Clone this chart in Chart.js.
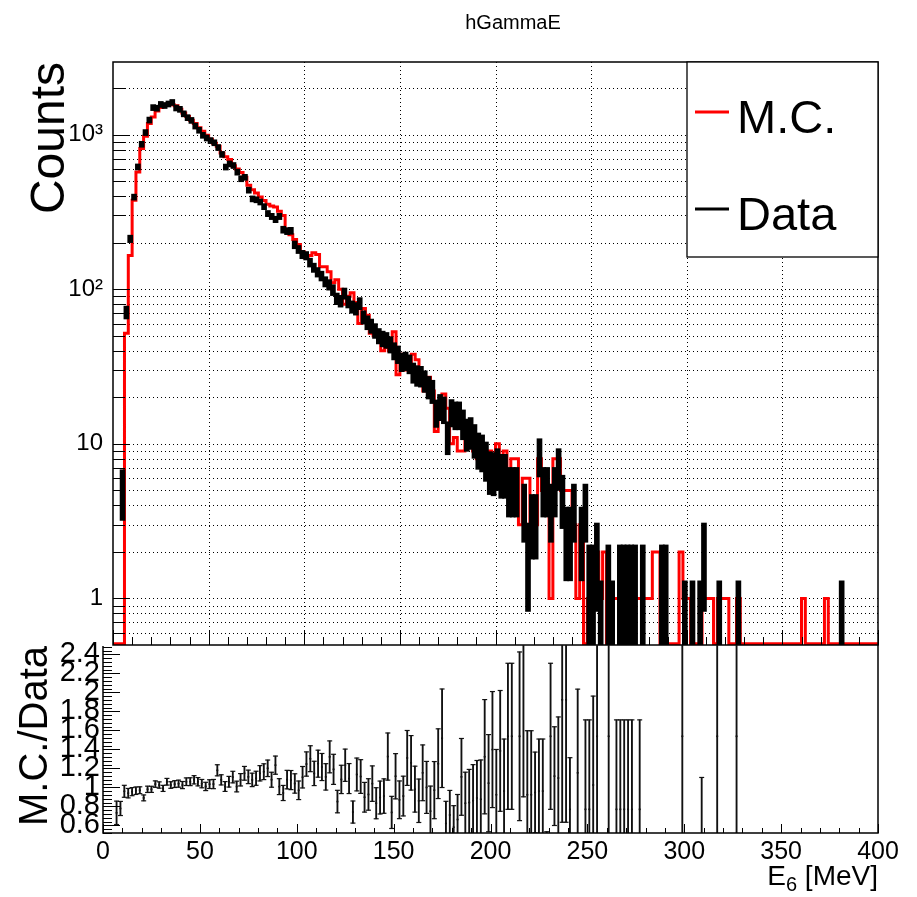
<!DOCTYPE html>
<html>
<head>
<meta charset="utf-8">
<script src="https://cdn.jsdelivr.net/npm/chart.js@4.4.1/dist/chart.umd.min.js"></script>
<style>
html,body{margin:0;padding:0;background:#fff;}
#wrap{position:relative;width:917px;height:897px;background:#fff;}
canvas{position:absolute;left:0;top:0;}
</style>
</head>
<body>
<div id="wrap">
<canvas id="topPad" width="917" height="897"></canvas>
<canvas id="botPad" width="917" height="897"></canvas>
</div>
<script>
const FONT = "'Liberation Sans', Arial, Helvetica, sans-serif";

// ---- histogram binning ----
const binWidth = 2;
const xMin = 0, xMax = 400;

// ---- M.C. histogram (counts per 2 MeV bin) ----
const mcCounts = [
  0,0,0,52,165,377,574,814,977,1180,1300,1420,1500,1560,1580,1560,1540,1460,1380,1310,
  1240,1180,1110,1050,990,935,880,840,760,720,690,630,600,570,530,470,440,420,395,375,
  355,345,340,320,300,240,225,210,195,175,160,165,172,168,140,140,130,110,115,100,
  80,90,95,82,60,75,68,52,50,52,40,42,40,53,28,38,30,30,38,35,
  27,22,27,22,12,17,21,17,10,11,9,9,13,10,9,8,8,7,9,7,
  10,6,9,5,8,8,3,6,6,3,3,8,5,5,1,8,8,5,5,5,
  3,1,3,0,1,1,2,1,2,0,1,1,1,1,1,1,1,1,1,1,
  1,2,2,0,0,0,0,0,2,1,1,0,0,0,1,1,1,0,1,1,
  1,0,0,1,0,0,0,0,0,0,0,0,0,0,0,0,0,0,0,0,
  1,0,0,0,0,0,1,0,0,0,0,0,0,0,0,0,0,0,0,0
];

// ---- Data histogram (weighted entries per 2 MeV bin) ----
const dataValues = [
  0,0,5,71,212,393,611,852,1012,1216,1461,1449,1531,1507,1541,1576,1453,1424,1333,1260,
  1210,1113,1047,972,934,899,871,812,734,610,639,624,566,514,525,435,383,378,366,342,
  309,296,283,296,243,238,239,194,181,168,165,149,138,129,122,112,107,99,87,84,
  94,83,77,75,81,66,61,58,54,50,48,47,44,40,38,34,34.5,33,29,27.8,
  27.5,25.6,23.4,22,16,17.5,16.8,11.2,16.1,15.5,15.5,13.6,11.7,12,10.7,9.3,9,8,6.8,6.7,
  7.15,6.5,6.5,5.2,5.2,5.2,0,3.9,1.95,3.25,3.25,8.45,5.2,5.2,3.9,5.2,7.15,4.55,2.6,2.6,
  3.9,0,2.6,3.9,1.3,1.3,1.95,0.65,0,1.3,0.65,0,1.3,1.3,1.3,1.3,1.3,0,1.3,0,
  0,0,0,1.3,1.3,0,0,0,0,0.65,0,0.65,0,0.65,1.95,0,0,0,0.65,0,
  0,0,0,0.65,0,0,0,0,0,0,0,0,0,0,0,0,0,0,0,0,
  0,0,0,0,0,0,0,0,0,0,0.65,0,0,0,0,0,0,0,0,0
];
const dataWeight = 0.65;   // per-entry weight of the data histogram

// ---- axes ----
const xMajorTicks = [0,50,100,150,200,250,300,350,400];
const xTickLabels = ['0','50','100','150','200','250','300','350','400'];
const xMinorStep = 10;
const yTopRange = [0.5, 2950];
const yTopTicks = [0.6,0.7,0.8,0.9,1,2,3,4,5,6,7,8,9,10,20,30,40,50,60,70,80,90,
                   100,200,300,400,500,600,700,800,900,1000,2000];
const yTopMajor = [1,10,100,1000];
const yTopTickLabels = ['1','10','10\u00B2','10\u00B3'];
const ratioRange = [0.52, 2.5];
const ratioTicks = [0.6,0.8,1,1.2,1.4,1.6,1.8,2,2.2,2.4];
const ratioTickLabels = ['0.6','0.8','1','1.2','1.4','1.6','1.8','2','2.2','2.4'];
const ratioMinorStep = 0.04;

// ---- derived plotting structures ----
const centers = mcCounts.map((_, i) => xMin + (i + 0.5) * binWidth);
const lowEdges = mcCounts.map((_, i) => xMin + i * binWidth);
const logFloor = yTopRange[0] * 1.02;
const mcLine = mcCounts.map((v, i) => ({x: lowEdges[i], y: v > 0 ? v : logFloor}));
mcLine.push({x: xMax, y: mcLine[mcLine.length - 1].y});

const dataBars = [];
dataValues.forEach((v, i) => {
  if (v > 0) {
    const e = Math.sqrt(dataWeight * v);
    dataBars.push({x: centers[i], y: [Math.max(v - e, yTopRange[0]), v + e]});
  }
});

const ratioBars = [], ratioHi = [], ratioLo = [], ratioMid = [];
mcCounts.forEach((m, i) => {
  const d = dataValues[i];
  if (m > 0 && d > 0) {
    const r = m / d;
    const e = r * Math.sqrt(1 / m + dataWeight / d);
    ratioBars.push({x: centers[i], y: [r - e, r + e]});
    ratioHi.push({x: centers[i], y: r + e});
    ratioLo.push({x: centers[i], y: r - e});
    ratioMid.push({x: centers[i], y: r});
  }
});

function seg(ctx, x1, y1, x2, y2) {
  ctx.beginPath(); ctx.moveTo(x1, y1); ctx.lineTo(x2, y2); ctx.stroke();
}

const topPanel = {
  id: 'topPanel',
  beforeDatasetsDraw(chart) {
    const {ctx, chartArea: a, scales: {x, y}} = chart;
    ctx.save();
    ctx.beginPath(); ctx.rect(a.left, a.top, a.right - a.left, a.bottom - a.top); ctx.clip();
    ctx.strokeStyle = '#000'; ctx.lineWidth = 1; ctx.setLineDash([1, 3]);
    xMajorTicks.slice(1, -1).forEach(v => {
      const px = Math.round(x.getPixelForValue(v)) + 0.5;
      seg(ctx, px, a.top, px, a.bottom);
    });
    yTopTicks.forEach(v => {
      const py = Math.round(y.getPixelForValue(v)) + 0.5;
      seg(ctx, a.left, py, a.right, py);
    });
    ctx.restore();
  },
  afterDatasetsDraw(chart) {
    const {ctx, chartArea: a, scales: {x, y}} = chart;
    ctx.save();
    ctx.strokeStyle = '#000'; ctx.lineWidth = 1;
    for (let k = 0; xMin + k * xMinorStep <= xMax; k++) {
      const v = xMin + k * xMinorStep;
      const px = Math.round(x.getPixelForValue(v)) + 0.5;
      const len = xMajorTicks.includes(v) ? 15 : 8;
      seg(ctx, px, a.bottom, px, a.bottom - len);
    }
    yTopTicks.forEach(v => {
      const py = Math.round(y.getPixelForValue(v)) + 0.5;
      const len = yTopMajor.includes(v) ? 17 : 12;
      seg(ctx, a.left, py, a.left + len, py);
    });
    ctx.lineWidth = 1.5;
    ctx.strokeRect(a.left, a.top, a.right - a.left, a.bottom - a.top);

    // legend box
    const lx = a.right - 191, ly = a.top, lw = 191, lh = 195;
    ctx.fillStyle = '#fff';
    ctx.fillRect(lx, ly, lw, lh);
    ctx.lineWidth = 1.3; ctx.strokeStyle = '#000';
    ctx.strokeRect(lx, ly, lw, lh);
    ctx.lineWidth = 3;
    ctx.strokeStyle = '#ff0000'; seg(ctx, lx + 8, ly + 50, lx + 42, ly + 50);
    ctx.strokeStyle = '#000'; seg(ctx, lx + 8, ly + 147, lx + 42, ly + 147);
    ctx.fillStyle = '#000';
    ctx.font = '47px ' + FONT; ctx.textAlign = 'left'; ctx.textBaseline = 'alphabetic';
    ctx.fillText('M.C.', lx + 50, ly + 71);
    ctx.fillText('Data', lx + 50, ly + 168);
    ctx.restore();
  },
  afterDraw(chart) {
    const {ctx, chartArea: a} = chart;
    ctx.save();
    ctx.fillStyle = '#000';
    ctx.font = '20px ' + FONT; ctx.textAlign = 'center'; ctx.textBaseline = 'alphabetic';
    ctx.fillText('hGammaE', 513, 29);
    ctx.translate(64, a.top); ctx.rotate(-Math.PI / 2);
    ctx.font = '48px ' + FONT; ctx.textAlign = 'right';
    ctx.fillText('Counts', 0, 0);
    ctx.restore();
  }
};

const botPanel = {
  id: 'botPanel',
  afterDatasetsDraw(chart) {
    const {ctx, chartArea: a, scales: {x, y}} = chart;
    ctx.save();
    ctx.strokeStyle = '#000'; ctx.lineWidth = 1;
    for (let k = 0; xMin + k * xMinorStep <= xMax; k++) {
      const v = xMin + k * xMinorStep;
      const px = Math.round(x.getPixelForValue(v)) + 0.5;
      const len = xMajorTicks.includes(v) ? 9 : 5;
      seg(ctx, px, a.bottom, px, a.bottom - len);
    }
    for (let k = 0; ; k++) {
      const v = ratioTicks[0] - 2 * ratioMinorStep + k * ratioMinorStep;
      if (v > ratioRange[1]) break;
      if (v < ratioRange[0]) continue;
      const py = Math.round(y.getPixelForValue(v)) + 0.5;
      const major = ratioTicks.some(t => Math.abs(t - v) < 1e-6);
      seg(ctx, a.left, py, a.left + (major ? 17 : 9), py);
    }
    ctx.lineWidth = 1.5;
    ctx.beginPath();
    ctx.moveTo(a.left, a.top + 1); ctx.lineTo(a.left, a.bottom);
    ctx.lineTo(a.right, a.bottom); ctx.lineTo(a.right, a.top);
    ctx.stroke();
    ctx.restore();
  },
  afterDraw(chart) {
    const {ctx, chartArea: a} = chart;
    ctx.save();
    ctx.fillStyle = '#000'; ctx.textBaseline = 'alphabetic';
    const big = '28px ' + FONT, small = '20px ' + FONT;
    ctx.font = big; const wTail = ctx.measureText(' [MeV]').width; const wE = ctx.measureText('E').width;
    ctx.font = small; const wSub = ctx.measureText('6').width;
    const xr = a.right;
    const base = 885;
    ctx.font = big; ctx.textAlign = 'left';
    ctx.fillText(' [MeV]', xr - wTail, base);
    ctx.font = small; ctx.fillText('6', xr - wTail - wSub, base + 6);
    ctx.font = big; ctx.fillText('E', xr - wTail - wSub - wE, base);
    ctx.translate(47, a.top + 1); ctx.rotate(-Math.PI / 2);
    ctx.font = '40px ' + FONT; ctx.textAlign = 'right';
    ctx.fillText('M.C./Data', 0, 0);
    ctx.restore();
  }
};

const common = {
  responsive: false, animation: false, devicePixelRatio: 1, events: [],
  plugins: {legend: {display: false}, tooltip: {enabled: false}, title: {display: false}}
};

new Chart(document.getElementById('topPad'), {
  type: 'line',
  data: {datasets: [
    {type: 'bar', label: 'Data', data: dataBars, backgroundColor: '#000', borderWidth: 0,
     barThickness: 5, minBarLength: 6, order: 0, clip: 0},
    {type: 'line', label: 'M.C.', data: mcLine, borderColor: '#ff0000', borderWidth: 3,
     pointRadius: 0, stepped: true, fill: false, order: 1, clip: 0}
  ]},
  options: Object.assign({}, common, {
    layout: {padding: {left: 0, top: 62, right: 39, bottom: 252}},
    scales: {
      x: {type: 'linear', min: xMin, max: xMax, offset: false,
          grid: {display: false, drawTicks: false}, border: {display: false},
          ticks: {display: false}, afterFit(s) { s.height = 0; }},
      y: {type: 'logarithmic', min: yTopRange[0], max: yTopRange[1],
          grid: {display: false, drawTicks: false}, border: {display: false},
          afterBuildTicks(s) { s.ticks = yTopTicks.map(v => ({value: v})); },
          ticks: {autoSkip: false, padding: 10, color: '#000', font: {family: FONT, size: 24},
                  callback: (v) => { const k = yTopMajor.indexOf(v); return k >= 0 ? yTopTickLabels[k] : ''; }},
          afterFit(s) { s.width = 113; }}
    }
  }),
  plugins: [topPanel]
});

const capStyle = {type: 'line', showLine: false, pointStyle: 'line', pointRadius: 2.5,
                  pointBorderWidth: 1.2, pointBorderColor: '#111', pointBackgroundColor: '#111', clip: 0, order: 0};

new Chart(document.getElementById('botPad'), {
  type: 'line',
  data: {datasets: [
    {type: 'bar', data: ratioBars, backgroundColor: '#111', borderWidth: 0, barThickness: 1.2, clip: 0, order: 1},
    Object.assign({data: ratioHi}, capStyle),
    Object.assign({data: ratioLo}, capStyle),
    Object.assign({}, capStyle, {data: ratioMid, pointRadius: 1, pointBorderWidth: 1.6})
  ]},
  options: Object.assign({}, common, {
    layout: {padding: {left: 0, top: 645, right: 39, bottom: 0}},
    scales: {
      x: {type: 'linear', min: xMin, max: xMax, offset: false,
          grid: {display: false, drawTicks: false}, border: {display: false},
          afterBuildTicks(s) { s.ticks = xMajorTicks.map(v => ({value: v})); },
          ticks: {autoSkip: false, maxRotation: 0, padding: 4, color: '#000', font: {family: FONT, size: 25},
                  callback: (v, i) => xTickLabels[i]},
          afterFit(s) { s.height = 64; }},
      y: {type: 'linear', min: ratioRange[0], max: ratioRange[1],
          grid: {display: false, drawTicks: false}, border: {display: false},
          afterBuildTicks(s) { s.ticks = ratioTicks.map(v => ({value: v})); },
          ticks: {autoSkip: false, padding: 3, color: '#000', font: {family: FONT, size: 29},
                  callback: (v, i) => ratioTickLabels[i]},
          afterFit(s) { s.width = 103; }}
    }
  }),
  plugins: [botPanel]
});
</script>
</body>
</html>
